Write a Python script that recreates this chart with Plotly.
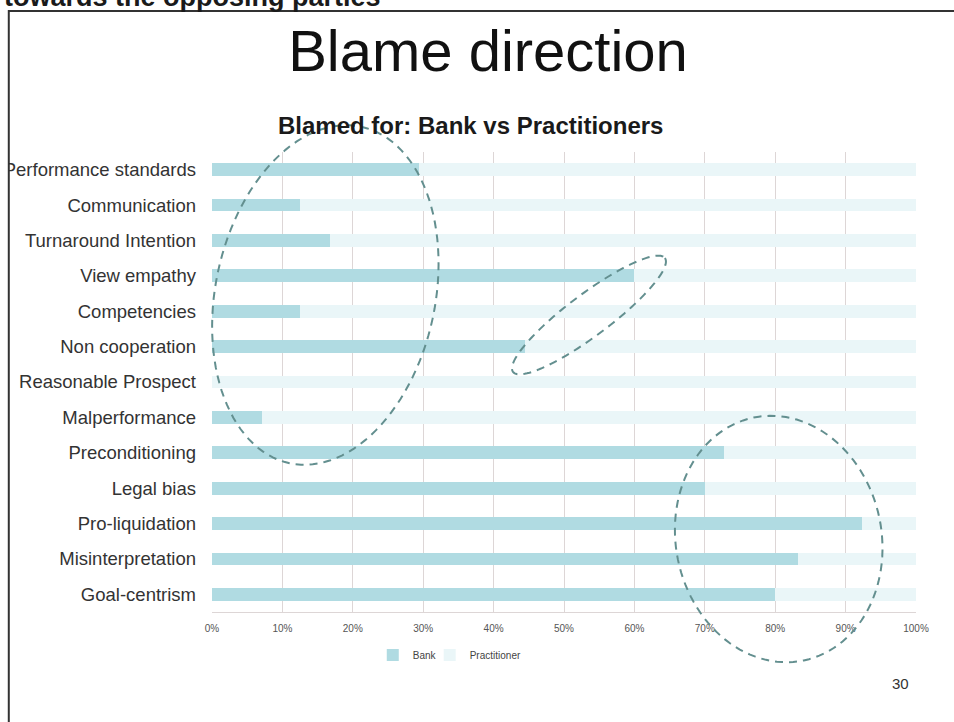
import math
import plotly.graph_objects as go

categories = ["Performance standards", "Communication", "Turnaround Intention",
              "View empathy", "Competencies", "Non cooperation", "Reasonable Prospect",
              "Malperformance", "Preconditioning", "Legal bias", "Pro-liquidation",
              "Misinterpretation", "Goal-centrism"]
bank = [29.4, 12.5, 16.7, 60.0, 12.5, 44.4, 0.0, 7.1, 72.7, 70.0, 92.3, 83.3, 80.0]
practitioner = [70.6, 87.5, 83.3, 40.0, 87.5, 55.6, 100.0, 92.9, 27.3, 30.0, 7.7, 16.7, 20.0]
x_ticks = [0, 10, 20, 30, 40, 50, 60, 70, 80, 90, 100]
x_tick_labels = ["0%", "10%", "20%", "30%", "40%", "50%", "60%", "70%", "80%", "90%", "100%"]

W, H = 954, 722
L, R, T, B = 211.5, 916.5, 152, 612
FONT = "Liberation Sans, Arial, sans-serif"


def px(x):
    return (x - L) / (R - L)


def py(y):
    return (B - y) / (B - T)


def ellipse_path(cx, cy, a, b, phi_deg, n=120):
    phi = math.radians(phi_deg)
    mx, my = math.sin(phi), -math.cos(phi)
    nx, ny = math.cos(phi), math.sin(phi)
    pts = []
    for i in range(n + 1):
        t = 2 * math.pi * i / n
        x = cx + a * math.cos(t) * mx + b * math.sin(t) * nx
        y = cy + a * math.cos(t) * my + b * math.sin(t) * ny
        pts.append((px(x), py(y)))
    d = "M{:.5f},{:.5f}".format(*pts[0])
    for p in pts[1:]:
        d += " L{:.5f},{:.5f}".format(*p)
    return d + " Z"


fig = go.Figure()
fig.add_trace(go.Bar(y=categories, x=bank, orientation="h", name="Bank", legend="legend",
                     marker=dict(color="#b0dbe2", line=dict(width=0)), width=0.36))
fig.add_trace(go.Bar(y=categories, x=practitioner, orientation="h", name="Practitioner",
                     legend="legend2",
                     marker=dict(color="#eaf6f8", line=dict(width=0)), width=0.36))

ell_style = dict(color="#638f8f", width=2, dash="8px,6px")
shapes = [
    dict(type="path", xref="paper", yref="paper", path=ellipse_path(325, 295, 172, 110, 12),
         line=ell_style, layer="above"),
    dict(type="path", xref="paper", yref="paper", path=ellipse_path(589, 315, 95, 21, 53.2),
         line=ell_style, layer="above"),
    dict(type="path", xref="paper", yref="paper", path=ellipse_path(779, 539, 124, 103, -11.7),
         line=ell_style, layer="above"),
    dict(type="rect", xref="paper", yref="paper", x0=px(-10), x1=px(7.5), y0=py(740), y1=py(12),
         fillcolor="white", line=dict(width=0), layer="above"),
    dict(type="rect", xref="paper", yref="paper", x0=px(8), x1=px(980), y0=py(760), y1=py(11),
         line=dict(color="#333333", width=2), layer="above"),
]

annotations = [
    dict(text="<b>towards the opposing parties</b>", xref="paper", yref="paper",
         x=px(1), y=py(-3), xanchor="left", yanchor="middle", showarrow=False,
         font=dict(family=FONT, size=27, color="#1a1a1a")),
    dict(text="<b>Blamed for: Bank vs Practitioners</b>", xref="paper", yref="paper",
         x=px(470), y=py(125), xanchor="center", yanchor="middle", showarrow=False,
         font=dict(family=FONT, size=24, color="#1a1a1a")),
    dict(text="30", xref="paper", yref="paper",
         x=px(901), y=py(683), xanchor="center", yanchor="middle", showarrow=False,
         font=dict(family=FONT, size=15, color="#333333")),
]

legend_font = dict(family=FONT, size=10, color="#444444")
fig.update_layout(
    width=W, height=H,
    margin=dict(l=L, r=W - R, t=T, b=H - B, pad=0, autoexpand=False),
    paper_bgcolor="white", plot_bgcolor="white",
    barmode="stack", bargap=0.64,
    title=dict(text="Blame direction", x=488 / W, xref="container", xanchor="center",
               y=1 - 51 / H, yref="container", yanchor="middle",
               font=dict(family=FONT, size=58, color="#111111")),
    font=dict(family=FONT),
    showlegend=True,
    legend=dict(orientation="h", x=px(372.5), y=py(655), xanchor="left", yanchor="middle",
                font=legend_font, itemwidth=30, bgcolor="rgba(0,0,0,0)"),
    legend2=dict(orientation="h", x=px(429.5), y=py(655), xanchor="left", yanchor="middle",
                 font=legend_font, itemwidth=30, bgcolor="rgba(0,0,0,0)"),
    shapes=shapes,
    annotations=annotations,
)
fig.update_xaxes(range=[0, 100], tickvals=x_ticks, ticktext=x_tick_labels,
                 showgrid=True, gridcolor="#ddd6d6", gridwidth=1, zeroline=False,
                 showline=True, linecolor="#ddd6d6", linewidth=1, automargin=False,
                 tickfont=dict(family=FONT, size=10, color="#555555"),
                 ticks="", ticklabelstandoff=7, fixedrange=True)
fig.update_yaxes(autorange="reversed", categoryorder="array", categoryarray=categories,
                 showgrid=False, zeroline=False, showline=False, automargin=False,
                 tickfont=dict(family=FONT, size=18.5, color="#333333"),
                 ticks="", ticklabelstandoff=15, fixedrange=True)

fig.write_html("out.html")
